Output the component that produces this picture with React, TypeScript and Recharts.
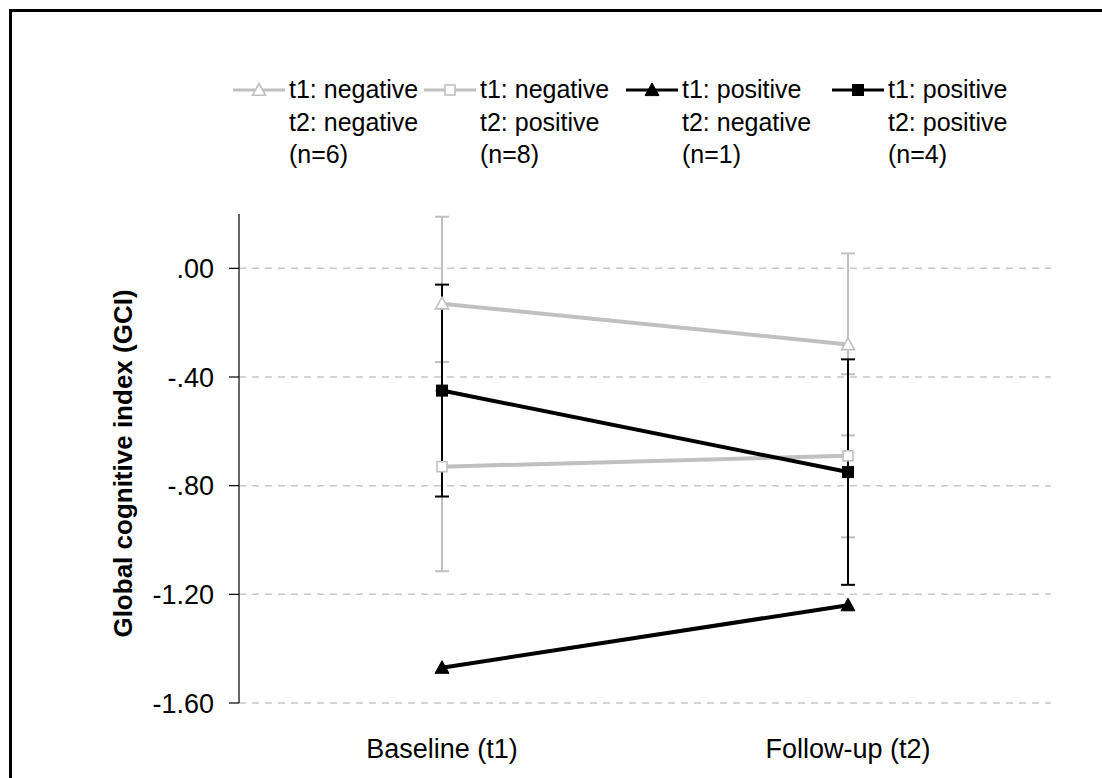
import React from "react";
import {
  LineChart,
  Line,
  XAxis,
  YAxis,
  CartesianGrid,
  ErrorBar,
} from "recharts";

const categories = ["Baseline (t1)", "Follow-up (t2)"];

// t1 negative / t2 negative (n=6)
const negNegMean = [-0.13, -0.28];
const negNegSd = [0.32, 0.335];
// t1 negative / t2 positive (n=8)
const negPosMean = [-0.73, -0.69];
const negPosSd = [0.385, 0.3];
// t1 positive / t2 negative (n=1)
const posNegMean = [-1.47, -1.24];
// t1 positive / t2 positive (n=4)
const posPosMean = [-0.45, -0.75];
const posPosSd = [0.39, 0.415];

const yTicks = [0, -0.4, -0.8, -1.2, -1.6];

const legendItems = [
  { lines: ["t1: negative", "t2: negative", "(n=6)"], color: "#c0c0c0", marker: "triangle", filled: false },
  { lines: ["t1: negative", "t2: positive", "(n=8)"], color: "#c0c0c0", marker: "square", filled: false },
  { lines: ["t1: positive", "t2: negative", "(n=1)"], color: "#000000", marker: "triangle", filled: true },
  { lines: ["t1: positive", "t2: positive", "(n=4)"], color: "#000000", marker: "square", filled: true },
];
const legendTextX = [289, 480, 682, 888];

const data = categories.map((name, i) => ({
  name,
  negNeg: negNegMean[i],
  negNegErr: negNegSd[i],
  negPos: negPosMean[i],
  negPosErr: negPosSd[i],
  posNeg: posNegMean[i],
  posPos: posPosMean[i],
  posPosErr: posPosSd[i],
}));

const GREY = "#c0c0c0";
const FONT = "'Liberation Sans', Arial, sans-serif";

function fmt(v: number) {
  return v.toFixed(2).replace(/^(-?)0\./, "$1.");
}

function Marker({ cx, cy, shape, color, filled }: any) {
  if (cx == null || cy == null) return null;
  if (shape === "triangle") {
    const s = filled ? 7 : 6.5;
    return (
      <polygon
        points={`${cx},${cy - s} ${cx + s},${cy + s * 0.8} ${cx - s},${cy + s * 0.8}`}
        fill={filled ? color : "#fff"}
        stroke={color}
        strokeWidth={filled ? 1 : 1.6}
      />
    );
  }
  const h = filled ? 5.5 : 5;
  return (
    <rect
      x={cx - h}
      y={cy - h}
      width={h * 2}
      height={h * 2}
      fill={filled ? color : "#fff"}
      stroke={color}
      strokeWidth={filled ? 1 : 1.6}
    />
  );
}

function LegendSwatch({ color, marker, filled }: any) {
  return (
    <svg width={56} height={16} style={{ position: "absolute", left: -58, top: 9 }}>
      <line x1={2} x2={54} y1={8} y2={8} stroke={color} strokeWidth={3} />
      <Marker cx={28} cy={8} shape={marker} color={color} filled={filled} />
    </svg>
  );
}

function AxisTitle({ viewBox }: any) {
  const x = viewBox.x - 36;
  const y = viewBox.y + viewBox.height / 2 + 5;
  return (
    <text
      x={x}
      y={y}
      transform={`rotate(-90, ${x}, ${y})`}
      textAnchor="middle"
      dominantBaseline="central"
      fontWeight="bold"
      fontSize={26}
      fontFamily={FONT}
      fill="#000"
    >
      Global cognitive index (GCI)
    </text>
  );
}

export default function App() {
  return (
    <div
      style={{
        position: "fixed",
        left: 0,
        top: 0,
        width: 1102,
        height: 778,
        background: "#fff",
        fontFamily: FONT,
        overflow: "hidden",
      }}
    >
      <div
        style={{
          position: "absolute",
          left: 9,
          top: 9,
          width: 1200,
          height: 900,
          borderLeft: "3px solid #000",
          borderTop: "3px solid #000",
        }}
      />
      {legendItems.map((item, i) => (
        <div
          key={i}
          style={{
            position: "absolute",
            left: legendTextX[i],
            top: 73,
            fontSize: 25,
            lineHeight: "32.5px",
            color: "#000",
            whiteSpace: "nowrap",
          }}
        >
          <LegendSwatch color={item.color} marker={item.marker} filled={item.filled} />
          {item.lines.map((t) => (
            <div key={t}>{t}</div>
          ))}
        </div>
      ))}
      <LineChart
        width={1102}
        height={778}
        data={data}
        margin={{ top: 214, right: 51, bottom: 35, left: 159 }}
        style={{ position: "absolute", left: 0, top: 0 }}
      >
        <CartesianGrid
          horizontal
          vertical={false}
          horizontalValues={yTicks}
          stroke="#c8c8c8"
          strokeDasharray="7 6"
          strokeWidth={1.5}
        />
        <XAxis
          dataKey="name"
          axisLine={false}
          tickLine={false}
          tickMargin={30}
          height={40}
          padding={{ left: 203, right: 203 }}
          tick={{ fill: "#000", fontSize: 27, fontFamily: FONT }}
        />
        <YAxis
          domain={[-1.6, 0.2]}
          ticks={yTicks}
          tickFormatter={fmt}
          width={80}
          axisLine={{ stroke: "#000", strokeWidth: 1.2 }}
          tickLine={{ stroke: "#000", strokeWidth: 1.2 }}
          tickSize={10}
          tickMargin={15}
          tick={{ fill: "#000", fontSize: 27, fontFamily: FONT }}
          label={<AxisTitle />}
        />
        <Line
          dataKey="negNeg"
          stroke={GREY}
          strokeWidth={4}
          isAnimationActive={false}
          dot={(p: any) => <Marker key={`a${p.index}`} cx={p.cx} cy={p.cy} shape="triangle" color={GREY} filled={false} />}
        >
          <ErrorBar dataKey="negNegErr" width={7} stroke={GREY} strokeWidth={2} direction="y" />
        </Line>
        <Line
          dataKey="negPos"
          stroke={GREY}
          strokeWidth={4}
          isAnimationActive={false}
          dot={(p: any) => <Marker key={`b${p.index}`} cx={p.cx} cy={p.cy} shape="square" color={GREY} filled={false} />}
        >
          <ErrorBar dataKey="negPosErr" width={7} stroke={GREY} strokeWidth={2} direction="y" />
        </Line>
        <Line
          dataKey="posNeg"
          stroke="#000"
          strokeWidth={4}
          isAnimationActive={false}
          dot={(p: any) => <Marker key={`c${p.index}`} cx={p.cx} cy={p.cy} shape="triangle" color="#000" filled />}
        />
        <Line
          dataKey="posPos"
          stroke="#000"
          strokeWidth={4}
          isAnimationActive={false}
          dot={(p: any) => <Marker key={`d${p.index}`} cx={p.cx} cy={p.cy} shape="square" color="#000" filled />}
        >
          <ErrorBar dataKey="posPosErr" width={7} stroke="#000" strokeWidth={2} direction="y" />
        </Line>
      </LineChart>
    </div>
  );
}
